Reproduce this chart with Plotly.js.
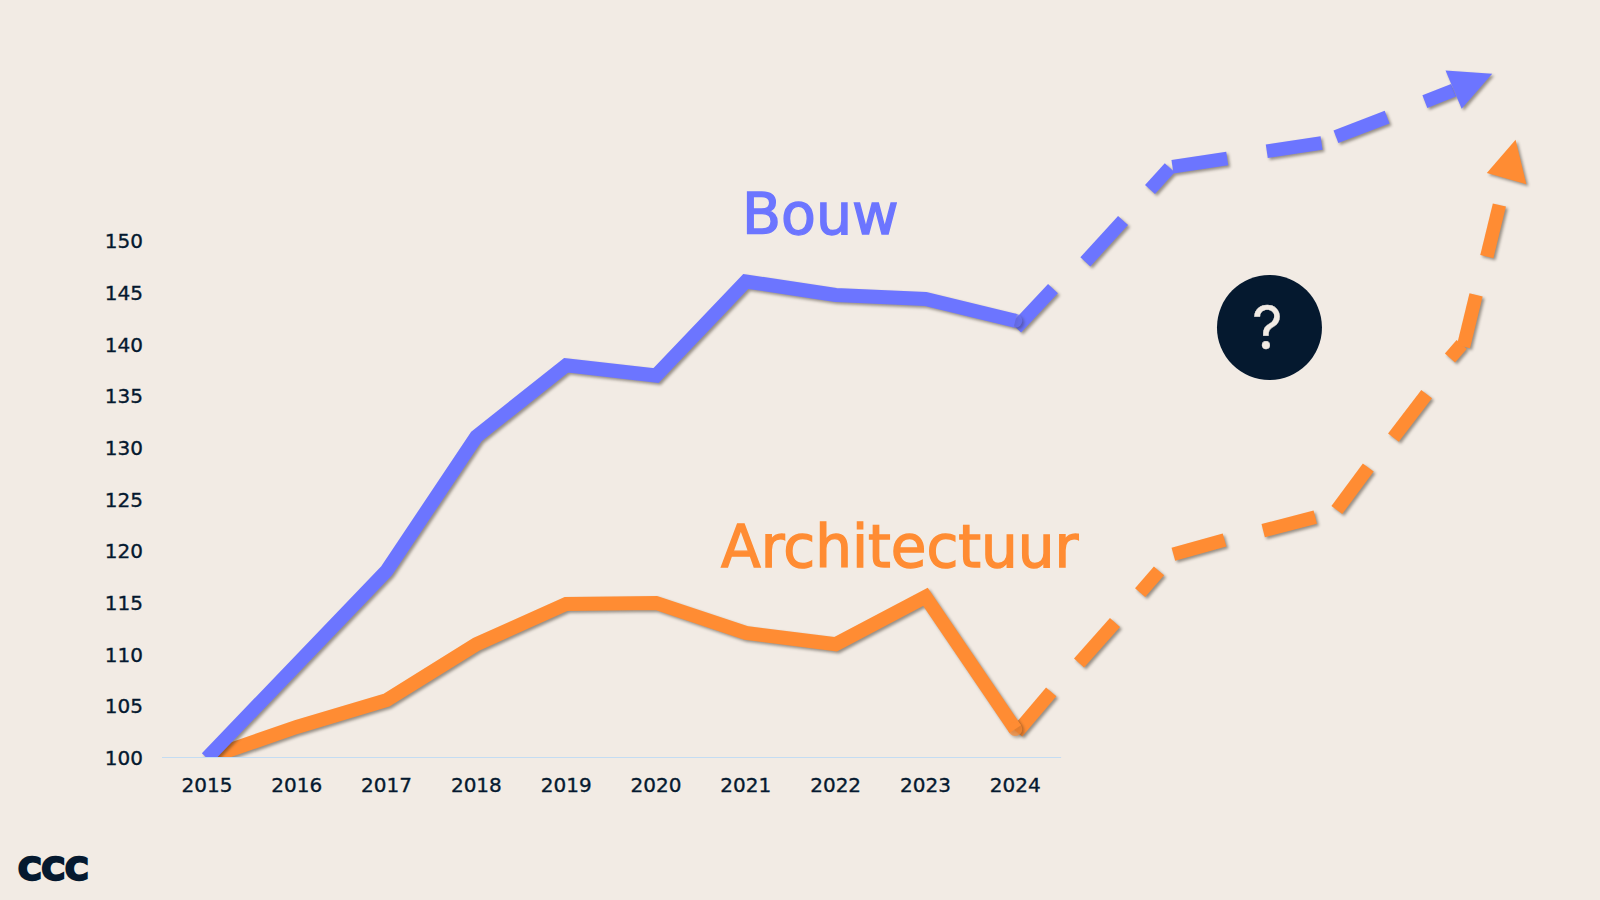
<!DOCTYPE html>
<html>
<head>
<meta charset="utf-8">
<script src="https://cdn.plot.ly/plotly-3.0.1.min.js"></script>
<style>
html,body{margin:0;padding:0;background:#f2ebe4}
#chart{width:1600px;height:900px}
.scatterlayer .trace:not(:last-child){filter:drop-shadow(2px 2px 1.5px rgba(40,30,20,.45))}
.xtick text,.ytick text{stroke:#05192f;stroke-width:.35px}
</style>
</head>
<body>
<div id="chart"></div>
<script>
const years = [2015,2016,2017,2018,2019,2020,2021,2022,2023,2024];
const bouw = [100,109.2,118.1,131.1,138.0,137.0,146.1,144.8,144.4,142.3];
const architectuur = [100,103,105.6,111,114.9,115,112.1,111,115.6,102.8];
const yTicks = [100,105,110,115,120,125,130,135,140,145,150];

const bouwDashX = [2024.01,2024.42,null,2024.78,2025.20,null,2025.50,2025.72,null,2025.75,2026.36,null,2026.80,2027.41,null,2027.57,2028.14,null,2028.56,2028.88];
const bouwDashY = [141.6,145.4,null,148.0,152.0,null,155.0,157.1,null,157.2,158.0,null,158.7,159.5,null,160.1,162.0,null,163.5,164.6];
const bouwHeadX = [2028.79,2029.31,2028.97,2028.79];
const bouwHeadY = [166.5,166.2,162.8,166.5];

const archDashX = [2024.02,2024.40,null,2024.71,2025.11,null,2025.39,2025.60,null,2025.76,2026.33,null,2026.76,2027.34,null,2027.58,2027.93,null,2028.21,2028.58,null,2028.84,2028.97,null,2028.99,2029.13,null,2029.25,2029.39];
const archDashY = [102.5,106.4,null,109.2,113.1,null,116.0,118.1,null,119.7,121.1,null,122.0,123.3,null,124.0,128.1,null,131.0,135.2,null,138.7,140.0,null,139.8,144.8,null,148.5,153.5];
const archHeadX = [2029.57,2029.25,2029.69,2029.57];
const archHeadY = [159.8,156.6,155.5,159.8];

const BLUE = '#6c75ff', ORANGE = '#ff8c33', NAVY = '#05192f', BG = '#f2ebe4';
const WIDE = '"DejaVu Sans", sans-serif';
const endDot = years.map((y,i)=> i===years.length-1 ? 14 : 0);

const traces = [
  {x: archDashX, y: archDashY, mode:'lines', line:{color:ORANGE,width:13.5}, connectgaps:false},
  {x: archHeadX, y: archHeadY, mode:'lines', fill:'toself', fillcolor:ORANGE, line:{color:ORANGE,width:0}},
  {x: years, y: architectuur, mode:'lines+markers', line:{color:ORANGE,width:14}, marker:{color:ORANGE,size:endDot,line:{width:0}}},
  {x: bouwDashX, y: bouwDashY, mode:'lines', line:{color:BLUE,width:13.5}, connectgaps:false},
  {x: bouwHeadX, y: bouwHeadY, mode:'lines', fill:'toself', fillcolor:BLUE, line:{color:BLUE,width:0}},
  {x: years, y: bouw, mode:'lines+markers', line:{color:BLUE,width:14}, marker:{color:BLUE,size:endDot,line:{width:0}}},
  {x:[2026.83], y:[141.65], mode:'markers', marker:{size:105,color:NAVY,line:{width:0}}}
];

const layout = {
  width:1600, height:900,
  paper_bgcolor:BG, plot_bgcolor:BG,
  showlegend:false, hovermode:false,
  margin:{l:162,r:0,t:0,b:142,pad:0},
  xaxis:{range:[2014.5,2030.51],tickmode:'array',tickvals:years,ticktext:years.map(String),
    showgrid:false,zeroline:false,showline:false,ticks:'',ticklabelstandoff:13,
    tickfont:{family:WIDE,size:20,color:NAVY}},
  yaxis:{range:[100,173.33],tickmode:'array',tickvals:yTicks,ticktext:yTicks.map(String),
    showgrid:false,zeroline:false,showline:false,ticks:'',ticklabelstandoff:18,
    tickfont:{family:WIDE,size:20,color:NAVY}},
  shapes:[{type:'line',xref:'x',yref:'y',x0:2014.5,x1:2024.51,y0:100,y1:100,layer:'above',
    line:{color:'#c4dcf2',width:2}}],
  annotations:[
    {text:'Bouw',xref:'x',yref:'y',x:2021.83,y:152.6,showarrow:false,xanchor:'center',yanchor:'middle',
      font:{family:WIDE,size:57,color:BLUE}},
    {text:'Architectuur',xref:'x',yref:'y',x:2022.72,y:120.4,showarrow:false,xanchor:'center',yanchor:'middle',
      font:{family:WIDE,size:58,color:ORANGE}},
    {text:'?',xref:'x',yref:'y',x:2026.81,y:141.7,showarrow:false,xanchor:'center',yanchor:'middle',
      font:{family:'Inter, sans-serif',size:60,color:BG}},
    {text:'CCC',xref:'paper',yref:'paper',x:-0.1013,y:-0.1466,showarrow:false,xanchor:'left',yanchor:'middle',
      font:{family:WIDE,size:32,weight:700,color:NAVY}}
  ]
};

Plotly.newPlot('chart',traces,layout,{staticPlot:true,displayModeBar:false}).then(()=>{
  const notes = document.querySelectorAll('.annotation-text');
  const widths = [1.4,1.4,0.3,2.4];
  notes.forEach((t,i)=>{
    t.style.stroke = t.style.fill;
    t.style.strokeWidth = widths[i]+'px';
  });
});
</script>
</body>
</html>
